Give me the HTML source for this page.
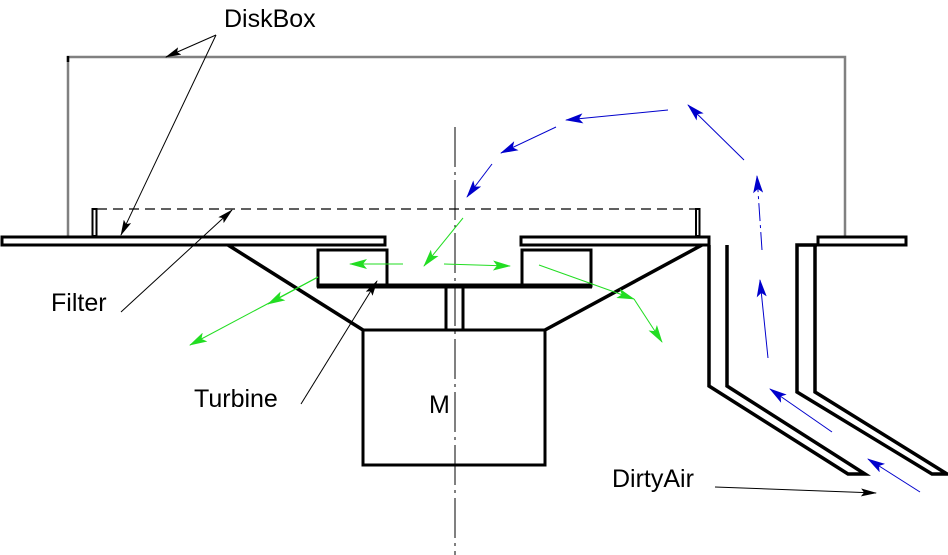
<!DOCTYPE html>
<html><head><meta charset="utf-8"><style>
html,body{margin:0;padding:0;background:#fff;}
svg{display:block;}
text{font-family:"Liberation Sans",Arial,sans-serif;font-size:25px;fill:#000;}
</style></head><body>
<svg width="948" height="555" viewBox="0 0 948 555" xmlns="http://www.w3.org/2000/svg">
<defs>
<marker id="ab" markerWidth="16" markerHeight="8" refX="15" refY="4" orient="auto" markerUnits="userSpaceOnUse"><path d="M0,0 L16,4 L0,8 L3,4 Z" fill="#000"/></marker>
<marker id="au" markerWidth="18" markerHeight="10" refX="17" refY="5" orient="auto" markerUnits="userSpaceOnUse"><path d="M0,0 L18,5 L0,10 L4,5 Z" fill="#0000cc"/></marker>
<marker id="ag" markerWidth="18" markerHeight="10" refX="17" refY="5" orient="auto" markerUnits="userSpaceOnUse"><path d="M0,0 L18,5 L0,10 L4,5 Z" fill="#22dd22"/></marker>
</defs>
<polyline points="68,236 68,57 845,57 845,236" fill="none" stroke="#808080" stroke-width="2.5"/>
<line x1="68" y1="56" x2="68" y2="62" stroke="#000" stroke-width="2.5"/>
<line x1="455" y1="127" x2="455" y2="555" stroke="#000" stroke-width="1" stroke-dasharray="40,5,3,5"/>
<line x1="97" y1="209" x2="697" y2="209" stroke="#000" stroke-width="1.2" stroke-dasharray="10,6"/>
<rect x="92.5" y="209" width="4" height="27" fill="none" stroke="#000" stroke-width="2"/>
<rect x="696" y="209" width="3.5" height="27" fill="none" stroke="#000" stroke-width="2"/>
<rect x="2" y="237" width="383" height="8" fill="none" stroke="#000" stroke-width="3"/>
<rect x="521" y="237" width="188" height="8" fill="none" stroke="#000" stroke-width="3"/>
<rect x="818" y="237" width="88" height="8" fill="none" stroke="#000" stroke-width="3"/>
<line x1="228" y1="245" x2="363" y2="330" stroke="#000" stroke-width="3.5"/>
<line x1="702" y1="245" x2="545" y2="330" stroke="#000" stroke-width="3.5"/>
<rect x="363" y="330" width="182" height="135" fill="none" stroke="#000" stroke-width="3"/>
<rect x="318" y="250" width="69" height="36" fill="none" stroke="#000" stroke-width="3"/>
<rect x="522" y="250" width="69" height="36" fill="none" stroke="#000" stroke-width="3"/>
<line x1="317" y1="286" x2="592" y2="286" stroke="#000" stroke-width="5"/>
<line x1="446" y1="288" x2="446" y2="330" stroke="#000" stroke-width="3"/>
<line x1="463" y1="288" x2="463" y2="330" stroke="#000" stroke-width="3"/>
<polyline points="709,245 709,386 848,474 865,474 727,386 727,245" fill="none" stroke="#000" stroke-width="3.5"/>
<polyline points="817,245 797,245 797,392 932,474 947,474 815,392 815,245" fill="none" stroke="#000" stroke-width="3.5"/>
<g stroke="#0000cc" stroke-width="1" fill="none">
<line x1="920" y1="492" x2="868" y2="459" marker-end="url(#au)"/>
<line x1="832" y1="432" x2="770" y2="389" marker-end="url(#au)"/>
<line x1="768" y1="358" x2="760" y2="280" marker-end="url(#au)"/>
<line x1="762" y1="250" x2="757" y2="176" marker-end="url(#au)" stroke-dasharray="18,4,3,4"/>
<line x1="744" y1="160" x2="688" y2="105" marker-end="url(#au)"/>
<line x1="668" y1="110" x2="566" y2="120" marker-end="url(#au)"/>
<line x1="556" y1="127" x2="501" y2="153" marker-end="url(#au)"/>
<line x1="492" y1="164" x2="467" y2="197" marker-end="url(#au)"/>
</g>
<g stroke="#22dd22" stroke-width="1" fill="none">
<line x1="463" y1="218" x2="424" y2="266" marker-end="url(#ag)"/>
<line x1="403" y1="264" x2="350" y2="264" marker-end="url(#ag)"/>
<line x1="444" y1="264" x2="510" y2="266" marker-end="url(#ag)"/>
<line x1="539" y1="265" x2="634" y2="299" marker-end="url(#ag)"/>
<line x1="634" y1="299" x2="662" y2="342" marker-end="url(#ag)"/>
<line x1="318" y1="277" x2="190" y2="345" marker-end="url(#ag)"/>
<line x1="318" y1="277" x2="268" y2="304" marker-end="url(#ag)"/>
</g>
<g stroke="#000" stroke-width="1" fill="none">
<line x1="216" y1="35" x2="166" y2="57" marker-end="url(#ab)"/>
<line x1="216" y1="35" x2="121" y2="235" marker-end="url(#ab)"/>
<line x1="121" y1="312" x2="232" y2="210" marker-end="url(#ab)"/>
<line x1="301" y1="404" x2="377" y2="281" marker-end="url(#ab)"/>
<line x1="715" y1="487" x2="876" y2="493" marker-end="url(#ab)"/>
</g>
<text x="224" y="27">DiskBox</text>
<text x="51" y="311">Filter</text>
<text x="194" y="407">Turbine</text>
<text x="429" y="413">M</text>
<text x="612" y="487">DirtyAir</text>
</svg>
</body></html>
